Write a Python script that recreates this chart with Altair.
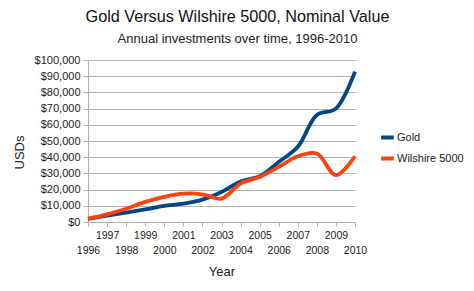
import altair as alt
import pandas as pd

years = list(range(1996, 2011))
gold = [2000, 4000, 5800, 7800, 9900, 11300, 13800, 18500, 25000, 28200, 37000, 46400, 66000, 70000, 92800]
wilshire = [2000, 4700, 8200, 12400, 15500, 17500, 17100, 14400, 23700, 27800, 34000, 40600, 42300, 28900, 40600]
series = ["Gold", "Wilshire 5000"]
colors = ["#004586", "#ff420e"]
y_ticks = list(range(0, 100001, 10000))

rows = []
for name, vals in zip(series, [gold, wilshire]):
    for yr, v in zip(years, vals):
        rows.append({"year": yr, "value": v, "series": name})
df = pd.DataFrame(rows)

FONT = "Liberation Sans"

chart = alt.Chart(df).mark_line(interpolate="catmull-rom", strokeWidth=3.8).encode(
    x=alt.X("year:Q",
            scale=alt.Scale(domain=[1996, 2010], nice=False, zero=False),
            axis=alt.Axis(values=years, format="d", title="Year", grid=False,
                          labelExpr="datum.value % 2 == 0 ? ['', datum.label] : datum.label",
                          labelLineHeight=15, labelFontSize=10.5, labelPadding=4,
                          labelOverlap=False, labelBaseline="top", labelFlush=False,
                          tickSize=4, tickColor="#b3b3b3", domainColor="#b3b3b3",
                          titleFontSize=13, titleFontWeight="normal", titlePadding=10,
                          labelColor="#222", titleColor="#222")),
    y=alt.Y("value:Q",
            scale=alt.Scale(domain=[0, 100000], nice=False),
            axis=alt.Axis(values=y_ticks, format="$,.0f", title="USDs",
                          labelFontSize=11, labelPadding=3, tickSize=5,
                          tickColor="#b3b3b3", domainColor="#b3b3b3", gridColor="#b3b3b3",
                          titleFontSize=13, titleFontWeight="normal", titlePadding=8,
                          titleY=92, labelColor="#222", titleColor="#222")),
    color=alt.Color("series:N",
                    scale=alt.Scale(domain=series, range=colors),
                    legend=alt.Legend(title=None, orient="none", legendX=291, legendY=69,
                                      symbolType="stroke", symbolStrokeWidth=4, symbolSize=160,
                                      labelFontSize=11, labelOffset=1, rowPadding=4,
                                      labelColor="#222")),
).properties(
    width=267, height=162,
    title=alt.TitleParams(
        text="Gold Versus Wilshire 5000, Nominal Value",
        subtitle="Annual investments over time, 1996-2010",
        fontSize=16.2, fontWeight="normal", subtitleFontSize=13,
        anchor="middle", dx=16, offset=8, subtitlePadding=8,
        color="#111", subtitleColor="#222", font=FONT, subtitleFont=FONT),
    autosize=alt.AutoSizeParams(type="none"),
    padding={"left": 80, "top": 52, "right": 111, "bottom": 61},
).configure(font=FONT).configure_view(stroke=None).configure_axis(labelFont=FONT, titleFont=FONT).configure_legend(labelFont=FONT)

chart.save("out.html", embed_options={"renderer": "svg", "actions": False})
